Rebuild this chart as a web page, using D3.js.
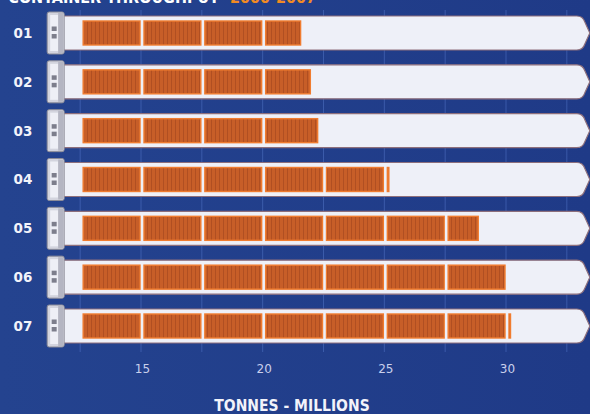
<!DOCTYPE html>
<html><head><meta charset="utf-8">
<script src="https://cdn.jsdelivr.net/npm/d3@7"></script>
<style>
html,body{margin:0;padding:0;background:#203d8b;overflow:hidden}
svg{display:block}
</style></head>
<body>
<script>
const years = ["01","02","03","04","05","06","07"];
const values = [21.6, 22.0, 22.3, 25.15, 28.9, 30.0, 30.2];
const tickValues = [15, 20, 25, 30];
const gridValues = [12.5, 15, 17.5, 20, 22.5, 25, 27.5, 30, 32.5];
const containerSize = 2.5;
const baseValue = 12.5;
const titleMain = "CONTAINER THROUGHPUT";
const titleYears = "2000-2007";
const axisTitle = "TONNES - MILLIONS";

const W = 590, H = 414;
const svg = d3.select("body").append("svg").attr("width", W).attr("height", H);

const defs = svg.append("defs");
const pat = defs.append("pattern").attr("id","corr").attr("patternUnits","userSpaceOnUse")
  .attr("width",4).attr("height",10);
pat.append("rect").attr("width",4).attr("height",10).attr("fill","#c75e28");
pat.append("rect").attr("x",3).attr("width",1).attr("height",10).attr("fill","#b04f22");
const bg = defs.append("linearGradient").attr("id","bg").attr("x1",0).attr("x2",1);
bg.append("stop").attr("offset",0).attr("stop-color","#24438f");
bg.append("stop").attr("offset",1).attr("stop-color","#1f3a87");

svg.append("rect").attr("width",W).attr("height",H).attr("fill","url(#bg)");

const x = d3.scaleLinear().domain([15,30]).range([142,507]);
const y = d3.scalePoint().domain(years).range([33,326]);
const hullH = 34, contH = 24;

// title (cut off at top, as in the reference)
svg.append("text").attr("x",219).attr("y",3).attr("text-anchor","end")
  .attr("font-family","DejaVu Sans Condensed, DejaVu Sans").attr("font-weight","bold")
  .attr("font-size",16).attr("fill","#ffffff").text(titleMain);
svg.append("text").attr("x",230).attr("y",3)
  .attr("font-family","DejaVu Sans Condensed, DejaVu Sans").attr("font-weight","bold")
  .attr("font-size",16).attr("fill","#f08a24").text(titleYears);

// gridlines
svg.append("g").selectAll("line").data(gridValues).join("line")
  .attr("x1",d=>x(d)-1).attr("x2",d=>x(d)-1).attr("y1",10).attr("y2",352)
  .attr("stroke","#5a7fd0").attr("stroke-opacity",0.45).attr("stroke-width",1);

const hullL = x(baseValue) - 18;
const hullR = x(32.5) + 9;

const rows = svg.append("g").selectAll("g").data(years).join("g")
  .attr("transform", d => `translate(0,${y(d)})`);

// hull
rows.append("path")
  .attr("d", () => {
    const t = -hullH/2, b = hullH/2;
    return `M${hullL},${t} L${hullR},${t} Q${hullR+6},${t} ${hullR+8},${t+6} L${hullR+13},0 L${hullR+8},${b-6} Q${hullR+6},${b} ${hullR},${b} L${hullL},${b} Z`;
  })
  .attr("fill","#eef0f8").attr("stroke","#8d6f7c").attr("stroke-width",1.2);

// stern
const st = rows.append("g");
st.append("rect").attr("x",hullL-16).attr("y",-hullH/2-4).attr("width",17).attr("height",hullH+8)
  .attr("rx",2).attr("fill","#d3d4de").attr("stroke","#8c8c98").attr("stroke-width",1);
st.append("rect").attr("x",hullL-13).attr("y",-hullH/2-1).attr("width",8).attr("height",hullH+2)
  .attr("fill","#eeeff6");
st.append("rect").attr("x",hullL-5).attr("y",-hullH/2-3).attr("width",5).attr("height",hullH+6)
  .attr("fill","#b4b5c2");
st.append("rect").attr("x",hullL-11.5).attr("y",-6.5).attr("width",5).attr("height",4.5).attr("fill","#7d7e8c");
st.append("rect").attr("x",hullL-11.5).attr("y",1).attr("width",5).attr("height",4.5).attr("fill","#7d7e8c");

// containers
rows.each(function(d,i){
  const v = values[i];
  const segs = [];
  for (let s = baseValue; s < v - 1e-9; s += containerSize) {
    segs.push([s, Math.min(s + containerSize, v)]);
  }
  d3.select(this).append("g").selectAll("rect").data(segs).join("rect")
    .attr("x", s => x(s[0]) + 2)
    .attr("y", -contH/2)
    .attr("width", s => Math.max(1.5, x(s[1]) - x(s[0]) - 4))
    .attr("height", contH)
    .attr("fill","url(#corr)")
    .attr("stroke","#f07c30").attr("stroke-width",1.4);
});

// row labels
rows.append("text").attr("x",23).attr("y",0).attr("dy","0.36em").attr("text-anchor","middle")
  .attr("font-family","DejaVu Sans").attr("font-weight","bold").attr("font-size",13.5)
  .attr("fill","#f2f3fa").text(d=>d);

// axis
const ax = svg.append("g").attr("transform","translate(0,356)")
  .call(d3.axisBottom(x).tickValues(tickValues).tickSize(0).tickPadding(8));
ax.select(".domain").remove();
ax.selectAll("text").attr("font-family","DejaVu Sans").attr("font-size",12)
  .attr("fill","#c9d0ec");

svg.append("text").attr("x",292).attr("y",411).attr("text-anchor","middle")
  .attr("font-family","DejaVu Sans Condensed, DejaVu Sans").attr("font-weight","bold")
  .attr("font-size",15.5).attr("fill","#f2f3fa").text(axisTitle);
</script>
</body></html>
